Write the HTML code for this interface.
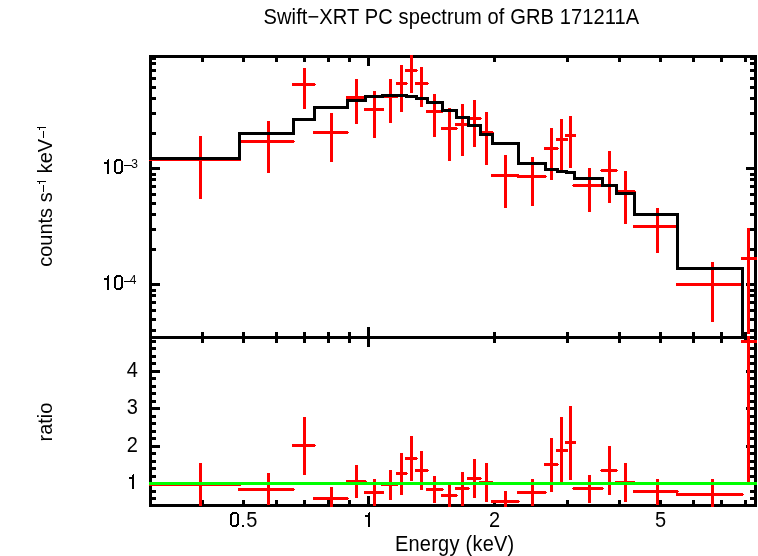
<!DOCTYPE html>
<html><head><meta charset="utf-8"><style>
html,body{margin:0;padding:0;background:#fff;}
body{width:758px;height:556px;overflow:hidden;}
svg{display:block;will-change:transform;}
text{font-family:"Liberation Sans", sans-serif;fill:#000;}
</style></head><body>
<svg width="758" height="556" viewBox="0 0 758 556" shape-rendering="crispEdges">
<rect x="0" y="0" width="758" height="556" fill="#fff"/>
<rect x="149" y="55" width="608" height="3" fill="#000"/>
<rect x="149" y="55" width="3" height="452" fill="#000"/>
<rect x="754" y="55" width="3" height="452" fill="#000"/>
<rect x="149" y="336" width="608" height="3" fill="#000"/>
<rect x="149" y="504" width="608" height="3" fill="#000"/>
<rect x="201" y="58" width="3" height="4" fill="#000"/>
<rect x="201" y="332" width="3" height="11" fill="#000"/>
<rect x="201" y="500" width="3" height="4" fill="#000"/>
<rect x="242" y="58" width="3" height="4" fill="#000"/>
<rect x="242" y="332" width="3" height="11" fill="#000"/>
<rect x="242" y="500" width="3" height="4" fill="#000"/>
<rect x="275" y="58" width="3" height="4" fill="#000"/>
<rect x="275" y="332" width="3" height="11" fill="#000"/>
<rect x="275" y="500" width="3" height="4" fill="#000"/>
<rect x="303" y="58" width="3" height="4" fill="#000"/>
<rect x="303" y="332" width="3" height="11" fill="#000"/>
<rect x="303" y="500" width="3" height="4" fill="#000"/>
<rect x="327" y="58" width="3" height="4" fill="#000"/>
<rect x="327" y="332" width="3" height="11" fill="#000"/>
<rect x="327" y="500" width="3" height="4" fill="#000"/>
<rect x="348" y="58" width="3" height="4" fill="#000"/>
<rect x="348" y="332" width="3" height="11" fill="#000"/>
<rect x="348" y="500" width="3" height="4" fill="#000"/>
<rect x="367" y="58" width="3" height="8" fill="#000"/>
<rect x="367" y="327" width="3" height="20" fill="#000"/>
<rect x="367" y="496" width="3" height="8" fill="#000"/>
<rect x="493" y="58" width="3" height="4" fill="#000"/>
<rect x="493" y="332" width="3" height="11" fill="#000"/>
<rect x="493" y="500" width="3" height="4" fill="#000"/>
<rect x="566" y="58" width="3" height="4" fill="#000"/>
<rect x="566" y="332" width="3" height="11" fill="#000"/>
<rect x="566" y="500" width="3" height="4" fill="#000"/>
<rect x="618" y="58" width="3" height="4" fill="#000"/>
<rect x="618" y="332" width="3" height="11" fill="#000"/>
<rect x="618" y="500" width="3" height="4" fill="#000"/>
<rect x="659" y="58" width="3" height="4" fill="#000"/>
<rect x="659" y="332" width="3" height="11" fill="#000"/>
<rect x="659" y="500" width="3" height="4" fill="#000"/>
<rect x="692" y="58" width="3" height="4" fill="#000"/>
<rect x="692" y="332" width="3" height="11" fill="#000"/>
<rect x="692" y="500" width="3" height="4" fill="#000"/>
<rect x="720" y="58" width="3" height="4" fill="#000"/>
<rect x="720" y="332" width="3" height="11" fill="#000"/>
<rect x="720" y="500" width="3" height="4" fill="#000"/>
<rect x="744" y="58" width="3" height="4" fill="#000"/>
<rect x="744" y="332" width="3" height="11" fill="#000"/>
<rect x="744" y="500" width="3" height="4" fill="#000"/>
<rect x="152" y="329" width="4" height="3" fill="#000"/>
<rect x="750" y="329" width="4" height="3" fill="#000"/>
<rect x="152" y="318" width="4" height="3" fill="#000"/>
<rect x="750" y="318" width="4" height="3" fill="#000"/>
<rect x="152" y="309" width="4" height="3" fill="#000"/>
<rect x="750" y="309" width="4" height="3" fill="#000"/>
<rect x="152" y="301" width="4" height="3" fill="#000"/>
<rect x="750" y="301" width="4" height="3" fill="#000"/>
<rect x="152" y="294" width="4" height="3" fill="#000"/>
<rect x="750" y="294" width="4" height="3" fill="#000"/>
<rect x="152" y="289" width="4" height="3" fill="#000"/>
<rect x="750" y="289" width="4" height="3" fill="#000"/>
<rect x="152" y="283" width="8" height="3" fill="#000"/>
<rect x="746" y="283" width="8" height="3" fill="#000"/>
<rect x="152" y="248" width="4" height="3" fill="#000"/>
<rect x="750" y="248" width="4" height="3" fill="#000"/>
<rect x="152" y="228" width="4" height="3" fill="#000"/>
<rect x="750" y="228" width="4" height="3" fill="#000"/>
<rect x="152" y="213" width="4" height="3" fill="#000"/>
<rect x="750" y="213" width="4" height="3" fill="#000"/>
<rect x="152" y="202" width="4" height="3" fill="#000"/>
<rect x="750" y="202" width="4" height="3" fill="#000"/>
<rect x="152" y="193" width="4" height="3" fill="#000"/>
<rect x="750" y="193" width="4" height="3" fill="#000"/>
<rect x="152" y="185" width="4" height="3" fill="#000"/>
<rect x="750" y="185" width="4" height="3" fill="#000"/>
<rect x="152" y="178" width="4" height="3" fill="#000"/>
<rect x="750" y="178" width="4" height="3" fill="#000"/>
<rect x="152" y="173" width="4" height="3" fill="#000"/>
<rect x="750" y="173" width="4" height="3" fill="#000"/>
<rect x="152" y="167" width="8" height="3" fill="#000"/>
<rect x="746" y="167" width="8" height="3" fill="#000"/>
<rect x="152" y="132" width="4" height="3" fill="#000"/>
<rect x="750" y="132" width="4" height="3" fill="#000"/>
<rect x="152" y="112" width="4" height="3" fill="#000"/>
<rect x="750" y="112" width="4" height="3" fill="#000"/>
<rect x="152" y="97" width="4" height="3" fill="#000"/>
<rect x="750" y="97" width="4" height="3" fill="#000"/>
<rect x="152" y="86" width="4" height="3" fill="#000"/>
<rect x="750" y="86" width="4" height="3" fill="#000"/>
<rect x="152" y="77" width="4" height="3" fill="#000"/>
<rect x="750" y="77" width="4" height="3" fill="#000"/>
<rect x="152" y="69" width="4" height="3" fill="#000"/>
<rect x="750" y="69" width="4" height="3" fill="#000"/>
<rect x="152" y="62" width="4" height="3" fill="#000"/>
<rect x="750" y="62" width="4" height="3" fill="#000"/>
<rect x="152" y="57" width="4" height="3" fill="#000"/>
<rect x="750" y="57" width="4" height="3" fill="#000"/>
<rect x="152" y="497" width="4" height="3" fill="#000"/>
<rect x="750" y="497" width="4" height="3" fill="#000"/>
<rect x="152" y="490" width="4" height="3" fill="#000"/>
<rect x="750" y="490" width="4" height="3" fill="#000"/>
<rect x="152" y="482" width="8" height="3" fill="#000"/>
<rect x="746" y="482" width="8" height="3" fill="#000"/>
<rect x="152" y="475" width="4" height="3" fill="#000"/>
<rect x="750" y="475" width="4" height="3" fill="#000"/>
<rect x="152" y="467" width="4" height="3" fill="#000"/>
<rect x="750" y="467" width="4" height="3" fill="#000"/>
<rect x="152" y="460" width="4" height="3" fill="#000"/>
<rect x="750" y="460" width="4" height="3" fill="#000"/>
<rect x="152" y="452" width="4" height="3" fill="#000"/>
<rect x="750" y="452" width="4" height="3" fill="#000"/>
<rect x="152" y="445" width="8" height="3" fill="#000"/>
<rect x="746" y="445" width="8" height="3" fill="#000"/>
<rect x="152" y="437" width="4" height="3" fill="#000"/>
<rect x="750" y="437" width="4" height="3" fill="#000"/>
<rect x="152" y="430" width="4" height="3" fill="#000"/>
<rect x="750" y="430" width="4" height="3" fill="#000"/>
<rect x="152" y="422" width="4" height="3" fill="#000"/>
<rect x="750" y="422" width="4" height="3" fill="#000"/>
<rect x="152" y="415" width="4" height="3" fill="#000"/>
<rect x="750" y="415" width="4" height="3" fill="#000"/>
<rect x="152" y="407" width="8" height="3" fill="#000"/>
<rect x="746" y="407" width="8" height="3" fill="#000"/>
<rect x="152" y="400" width="4" height="3" fill="#000"/>
<rect x="750" y="400" width="4" height="3" fill="#000"/>
<rect x="152" y="392" width="4" height="3" fill="#000"/>
<rect x="750" y="392" width="4" height="3" fill="#000"/>
<rect x="152" y="385" width="4" height="3" fill="#000"/>
<rect x="750" y="385" width="4" height="3" fill="#000"/>
<rect x="152" y="377" width="4" height="3" fill="#000"/>
<rect x="750" y="377" width="4" height="3" fill="#000"/>
<rect x="152" y="370" width="8" height="3" fill="#000"/>
<rect x="746" y="370" width="8" height="3" fill="#000"/>
<rect x="152" y="362" width="4" height="3" fill="#000"/>
<rect x="750" y="362" width="4" height="3" fill="#000"/>
<rect x="152" y="355" width="4" height="3" fill="#000"/>
<rect x="750" y="355" width="4" height="3" fill="#000"/>
<rect x="152" y="347" width="4" height="3" fill="#000"/>
<rect x="750" y="347" width="4" height="3" fill="#000"/>
<rect x="152" y="340" width="4" height="3" fill="#000"/>
<rect x="750" y="340" width="4" height="3" fill="#000"/>
<rect x="149" y="158" width="92" height="3" fill="#ff0000"/>
<rect x="199" y="136" width="3" height="63" fill="#ff0000"/>
<rect x="149" y="483" width="92" height="3" fill="#ff0000"/>
<rect x="199" y="463" width="3" height="43" fill="#ff0000"/>
<rect x="238" y="140" width="56" height="3" fill="#ff0000"/>
<rect x="294" y="141" width="1" height="1" fill="#ff0000"/>
<rect x="267" y="121" width="3" height="52" fill="#ff0000"/>
<rect x="238" y="488" width="56" height="3" fill="#ff0000"/>
<rect x="294" y="489" width="1" height="1" fill="#ff0000"/>
<rect x="267" y="473" width="3" height="32" fill="#ff0000"/>
<rect x="292" y="83" width="23" height="3" fill="#ff0000"/>
<rect x="315" y="84" width="1" height="1" fill="#ff0000"/>
<rect x="303" y="68" width="3" height="41" fill="#ff0000"/>
<rect x="292" y="444" width="23" height="3" fill="#ff0000"/>
<rect x="315" y="445" width="1" height="1" fill="#ff0000"/>
<rect x="303" y="417" width="3" height="58" fill="#ff0000"/>
<rect x="313" y="131" width="35" height="3" fill="#ff0000"/>
<rect x="348" y="132" width="1" height="1" fill="#ff0000"/>
<rect x="330" y="113" width="3" height="49" fill="#ff0000"/>
<rect x="313" y="497" width="35" height="3" fill="#ff0000"/>
<rect x="348" y="498" width="1" height="1" fill="#ff0000"/>
<rect x="330" y="487" width="3" height="20" fill="#ff0000"/>
<rect x="346" y="96" width="20" height="3" fill="#ff0000"/>
<rect x="366" y="97" width="1" height="1" fill="#ff0000"/>
<rect x="355" y="79" width="3" height="45" fill="#ff0000"/>
<rect x="346" y="480" width="20" height="3" fill="#ff0000"/>
<rect x="366" y="481" width="1" height="1" fill="#ff0000"/>
<rect x="355" y="465" width="3" height="33" fill="#ff0000"/>
<rect x="364" y="108" width="20" height="3" fill="#ff0000"/>
<rect x="373" y="91" width="3" height="47" fill="#ff0000"/>
<rect x="364" y="491" width="20" height="3" fill="#ff0000"/>
<rect x="373" y="479" width="3" height="27" fill="#ff0000"/>
<rect x="381" y="95" width="17" height="3" fill="#ff0000"/>
<rect x="398" y="96" width="1" height="1" fill="#ff0000"/>
<rect x="389" y="79" width="3" height="44" fill="#ff0000"/>
<rect x="381" y="483" width="17" height="3" fill="#ff0000"/>
<rect x="398" y="484" width="1" height="1" fill="#ff0000"/>
<rect x="389" y="470" width="3" height="30" fill="#ff0000"/>
<rect x="396" y="82" width="11" height="3" fill="#ff0000"/>
<rect x="407" y="83" width="1" height="1" fill="#ff0000"/>
<rect x="400" y="65" width="3" height="47" fill="#ff0000"/>
<rect x="396" y="472" width="11" height="3" fill="#ff0000"/>
<rect x="407" y="473" width="1" height="1" fill="#ff0000"/>
<rect x="400" y="453" width="3" height="42" fill="#ff0000"/>
<rect x="405" y="69" width="12" height="3" fill="#ff0000"/>
<rect x="417" y="70" width="1" height="1" fill="#ff0000"/>
<rect x="410" y="55" width="3" height="38" fill="#ff0000"/>
<rect x="405" y="457" width="12" height="3" fill="#ff0000"/>
<rect x="417" y="458" width="1" height="1" fill="#ff0000"/>
<rect x="410" y="436" width="3" height="45" fill="#ff0000"/>
<rect x="415" y="82" width="13" height="3" fill="#ff0000"/>
<rect x="428" y="83" width="1" height="1" fill="#ff0000"/>
<rect x="420" y="67" width="3" height="40" fill="#ff0000"/>
<rect x="415" y="469" width="13" height="3" fill="#ff0000"/>
<rect x="428" y="470" width="1" height="1" fill="#ff0000"/>
<rect x="420" y="451" width="3" height="39" fill="#ff0000"/>
<rect x="426" y="110" width="17" height="3" fill="#ff0000"/>
<rect x="443" y="111" width="1" height="1" fill="#ff0000"/>
<rect x="433" y="94" width="3" height="43" fill="#ff0000"/>
<rect x="426" y="488" width="17" height="3" fill="#ff0000"/>
<rect x="443" y="489" width="1" height="1" fill="#ff0000"/>
<rect x="433" y="476" width="3" height="27" fill="#ff0000"/>
<rect x="441" y="127" width="16" height="3" fill="#ff0000"/>
<rect x="457" y="128" width="1" height="1" fill="#ff0000"/>
<rect x="448" y="108" width="3" height="53" fill="#ff0000"/>
<rect x="441" y="494" width="16" height="3" fill="#ff0000"/>
<rect x="457" y="495" width="1" height="1" fill="#ff0000"/>
<rect x="448" y="482" width="3" height="25" fill="#ff0000"/>
<rect x="455" y="123" width="14" height="3" fill="#ff0000"/>
<rect x="469" y="124" width="1" height="1" fill="#ff0000"/>
<rect x="461" y="104" width="3" height="52" fill="#ff0000"/>
<rect x="455" y="487" width="14" height="3" fill="#ff0000"/>
<rect x="469" y="488" width="1" height="1" fill="#ff0000"/>
<rect x="461" y="472" width="3" height="34" fill="#ff0000"/>
<rect x="467" y="117" width="14" height="3" fill="#ff0000"/>
<rect x="481" y="118" width="1" height="1" fill="#ff0000"/>
<rect x="473" y="100" width="3" height="47" fill="#ff0000"/>
<rect x="467" y="477" width="14" height="3" fill="#ff0000"/>
<rect x="481" y="478" width="1" height="1" fill="#ff0000"/>
<rect x="473" y="459" width="3" height="39" fill="#ff0000"/>
<rect x="479" y="131" width="14" height="3" fill="#ff0000"/>
<rect x="493" y="132" width="1" height="1" fill="#ff0000"/>
<rect x="485" y="112" width="3" height="53" fill="#ff0000"/>
<rect x="479" y="481" width="14" height="3" fill="#ff0000"/>
<rect x="493" y="482" width="1" height="1" fill="#ff0000"/>
<rect x="485" y="463" width="3" height="39" fill="#ff0000"/>
<rect x="491" y="174" width="28" height="3" fill="#ff0000"/>
<rect x="519" y="175" width="1" height="1" fill="#ff0000"/>
<rect x="504" y="155" width="3" height="53" fill="#ff0000"/>
<rect x="491" y="500" width="28" height="3" fill="#ff0000"/>
<rect x="519" y="501" width="1" height="1" fill="#ff0000"/>
<rect x="504" y="491" width="3" height="16" fill="#ff0000"/>
<rect x="517" y="175" width="29" height="3" fill="#ff0000"/>
<rect x="546" y="176" width="1" height="1" fill="#ff0000"/>
<rect x="531" y="157" width="3" height="49" fill="#ff0000"/>
<rect x="517" y="491" width="29" height="3" fill="#ff0000"/>
<rect x="546" y="492" width="1" height="1" fill="#ff0000"/>
<rect x="531" y="479" width="3" height="27" fill="#ff0000"/>
<rect x="544" y="147" width="14" height="3" fill="#ff0000"/>
<rect x="558" y="148" width="1" height="1" fill="#ff0000"/>
<rect x="550" y="128" width="3" height="52" fill="#ff0000"/>
<rect x="544" y="463" width="14" height="3" fill="#ff0000"/>
<rect x="558" y="464" width="1" height="1" fill="#ff0000"/>
<rect x="550" y="438" width="3" height="54" fill="#ff0000"/>
<rect x="556" y="138" width="12" height="3" fill="#ff0000"/>
<rect x="560" y="119" width="3" height="51" fill="#ff0000"/>
<rect x="556" y="449" width="12" height="3" fill="#ff0000"/>
<rect x="560" y="417" width="3" height="65" fill="#ff0000"/>
<rect x="565" y="134" width="11" height="3" fill="#ff0000"/>
<rect x="569" y="116" width="3" height="52" fill="#ff0000"/>
<rect x="565" y="441" width="11" height="3" fill="#ff0000"/>
<rect x="569" y="406" width="3" height="74" fill="#ff0000"/>
<rect x="573" y="184" width="30" height="3" fill="#ff0000"/>
<rect x="603" y="185" width="1" height="1" fill="#ff0000"/>
<rect x="572" y="185" width="1" height="1" fill="#ff0000"/>
<rect x="588" y="168" width="3" height="44" fill="#ff0000"/>
<rect x="573" y="487" width="30" height="3" fill="#ff0000"/>
<rect x="603" y="488" width="1" height="1" fill="#ff0000"/>
<rect x="572" y="488" width="1" height="1" fill="#ff0000"/>
<rect x="588" y="475" width="3" height="28" fill="#ff0000"/>
<rect x="601" y="169" width="16" height="3" fill="#ff0000"/>
<rect x="617" y="170" width="1" height="1" fill="#ff0000"/>
<rect x="600" y="170" width="1" height="1" fill="#ff0000"/>
<rect x="608" y="151" width="3" height="52" fill="#ff0000"/>
<rect x="601" y="469" width="16" height="3" fill="#ff0000"/>
<rect x="617" y="470" width="1" height="1" fill="#ff0000"/>
<rect x="600" y="470" width="1" height="1" fill="#ff0000"/>
<rect x="608" y="446" width="3" height="49" fill="#ff0000"/>
<rect x="615" y="190" width="20" height="3" fill="#ff0000"/>
<rect x="635" y="191" width="1" height="1" fill="#ff0000"/>
<rect x="624" y="171" width="3" height="53" fill="#ff0000"/>
<rect x="615" y="481" width="20" height="3" fill="#ff0000"/>
<rect x="635" y="482" width="1" height="1" fill="#ff0000"/>
<rect x="624" y="463" width="3" height="39" fill="#ff0000"/>
<rect x="633" y="225" width="45" height="3" fill="#ff0000"/>
<rect x="678" y="226" width="1" height="1" fill="#ff0000"/>
<rect x="656" y="208" width="3" height="45" fill="#ff0000"/>
<rect x="633" y="490" width="45" height="3" fill="#ff0000"/>
<rect x="678" y="491" width="1" height="1" fill="#ff0000"/>
<rect x="656" y="479" width="3" height="26" fill="#ff0000"/>
<rect x="676" y="283" width="67" height="3" fill="#ff0000"/>
<rect x="743" y="284" width="1" height="1" fill="#ff0000"/>
<rect x="711" y="262" width="3" height="60" fill="#ff0000"/>
<rect x="676" y="493" width="67" height="3" fill="#ff0000"/>
<rect x="743" y="494" width="1" height="1" fill="#ff0000"/>
<rect x="711" y="479" width="3" height="28" fill="#ff0000"/>
<rect x="741" y="257" width="16" height="3" fill="#ff0000"/>
<rect x="747" y="228" width="3" height="106" fill="#ff0000"/>
<rect x="741" y="340" width="16" height="3" fill="#ff0000"/>
<rect x="747" y="336" width="3" height="146" fill="#ff0000"/>
<rect x="149" y="157" width="92" height="3" fill="#000"/>
<rect x="238" y="132" width="3" height="28" fill="#000"/>
<rect x="238" y="132" width="57" height="3" fill="#000"/>
<rect x="292" y="118" width="3" height="17" fill="#000"/>
<rect x="292" y="118" width="24" height="3" fill="#000"/>
<rect x="313" y="106" width="3" height="15" fill="#000"/>
<rect x="313" y="106" width="36" height="3" fill="#000"/>
<rect x="346" y="99" width="3" height="10" fill="#000"/>
<rect x="346" y="99" width="21" height="3" fill="#000"/>
<rect x="364" y="95" width="3" height="7" fill="#000"/>
<rect x="364" y="95" width="20" height="3" fill="#000"/>
<rect x="381" y="94" width="3" height="4" fill="#000"/>
<rect x="381" y="94" width="18" height="3" fill="#000"/>
<rect x="396" y="94" width="3" height="3" fill="#000"/>
<rect x="396" y="94" width="12" height="3" fill="#000"/>
<rect x="405" y="94" width="3" height="4" fill="#000"/>
<rect x="405" y="95" width="13" height="3" fill="#000"/>
<rect x="415" y="95" width="3" height="5" fill="#000"/>
<rect x="415" y="97" width="14" height="3" fill="#000"/>
<rect x="426" y="97" width="3" height="7" fill="#000"/>
<rect x="426" y="101" width="18" height="3" fill="#000"/>
<rect x="441" y="101" width="3" height="11" fill="#000"/>
<rect x="441" y="109" width="17" height="3" fill="#000"/>
<rect x="455" y="109" width="3" height="10" fill="#000"/>
<rect x="455" y="116" width="15" height="3" fill="#000"/>
<rect x="467" y="116" width="3" height="11" fill="#000"/>
<rect x="467" y="124" width="15" height="3" fill="#000"/>
<rect x="479" y="124" width="3" height="12" fill="#000"/>
<rect x="479" y="133" width="15" height="3" fill="#000"/>
<rect x="491" y="133" width="3" height="12" fill="#000"/>
<rect x="491" y="142" width="29" height="3" fill="#000"/>
<rect x="517" y="142" width="3" height="23" fill="#000"/>
<rect x="517" y="162" width="30" height="3" fill="#000"/>
<rect x="544" y="162" width="3" height="9" fill="#000"/>
<rect x="544" y="168" width="15" height="3" fill="#000"/>
<rect x="556" y="168" width="3" height="5" fill="#000"/>
<rect x="556" y="170" width="12" height="3" fill="#000"/>
<rect x="565" y="170" width="3" height="4" fill="#000"/>
<rect x="565" y="171" width="11" height="3" fill="#000"/>
<rect x="573" y="171" width="3" height="9" fill="#000"/>
<rect x="573" y="177" width="31" height="3" fill="#000"/>
<rect x="601" y="177" width="3" height="10" fill="#000"/>
<rect x="601" y="184" width="17" height="3" fill="#000"/>
<rect x="615" y="184" width="3" height="11" fill="#000"/>
<rect x="615" y="192" width="21" height="3" fill="#000"/>
<rect x="633" y="192" width="3" height="24" fill="#000"/>
<rect x="633" y="213" width="46" height="3" fill="#000"/>
<rect x="676" y="213" width="3" height="57" fill="#000"/>
<rect x="676" y="267" width="68" height="3" fill="#000"/>
<rect x="741" y="267" width="3" height="71" fill="#000"/>
<rect x="149" y="482" width="608" height="3" fill="#00ff00"/>
<g shape-rendering="auto">

<text transform="translate(263.5,23.8) scale(1,1.07)" font-size="20.1" letter-spacing="0.1">Swift&#8722;XRT PC spectrum of GRB 171211A</text>
<rect x="107" y="160" width="2" height="14" fill="#000"/><rect x="108" y="159" width="1" height="1" fill="#000"/><rect x="104" y="162" width="3" height="2" fill="#000"/><rect x="115" y="160" width="7" height="13" rx="3" ry="3" fill="none" stroke="#000" stroke-width="2" shape-rendering="crispEdges"/>
<rect x="124" y="165" width="8" height="1" fill="#000"/>
<text transform="translate(131.3,167.8) scale(1,1.06)" font-size="12">3</text>
<rect x="107" y="276" width="2" height="14" fill="#000"/><rect x="108" y="275" width="1" height="1" fill="#000"/><rect x="104" y="278" width="3" height="2" fill="#000"/><rect x="115" y="276" width="7" height="13" rx="3" ry="3" fill="none" stroke="#000" stroke-width="2" shape-rendering="crispEdges"/>
<rect x="124" y="281" width="8" height="1" fill="#000"/>
<text transform="translate(129.8,283.8) scale(1,1.06)" font-size="12">4</text>
<g transform="translate(52,266.8) rotate(-90)"><text transform="scale(1.0,1.03)" font-size="20">counts s</text></g>
<rect x="43" y="185" width="1" height="7" fill="#000"/>
<rect x="37" y="181" width="9" height="1" fill="#000"/><rect x="39" y="182" width="1" height="2" fill="#000"/>
<g transform="translate(52,173.3) rotate(-90)"><text transform="scale(1.0,1.03)" font-size="20">keV</text></g>
<rect x="43" y="131" width="1" height="7" fill="#000"/>
<rect x="37" y="127" width="9" height="1" fill="#000"/><rect x="39" y="128" width="1" height="2" fill="#000"/>
<g transform="translate(52.1,441.5) rotate(-90)"><text transform="scale(1.0,1.03)" font-size="20">ratio</text></g>
<text transform="translate(138,376.8) scale(1,1.06)" font-size="20" text-anchor="end">4</text>
<text transform="translate(138,413.9) scale(1,1.06)" font-size="20" text-anchor="end">3</text>
<text transform="translate(138,452.2) scale(1,1.06)" font-size="20" text-anchor="end">2</text>
<rect x="132" y="475" width="2" height="14" fill="#000"/><rect x="133" y="474" width="1" height="1" fill="#000"/><rect x="129" y="477" width="3" height="2" fill="#000"/>
<rect x="231" y="513" width="7" height="13" rx="3" ry="3" fill="none" stroke="#000" stroke-width="2" shape-rendering="crispEdges"/><rect x="242" y="525" width="2" height="2" fill="#000"/><text transform="translate(246.3,527) scale(1,1.06)" font-size="20">5</text>
<rect x="368" y="513" width="2" height="14" fill="#000"/><rect x="369" y="512" width="1" height="1" fill="#000"/><rect x="365" y="515" width="3" height="2" fill="#000"/>
<text transform="translate(494.5,527) scale(1,1.06)" font-size="20" text-anchor="middle">2</text>
<text transform="translate(660.5,527) scale(1,1.06)" font-size="20" text-anchor="middle">5</text>
<text transform="translate(454.7,550.6) scale(1,1.06)" font-size="20" letter-spacing="0.25" text-anchor="middle">Energy (keV)</text>

</g>
</svg>
</body></html>
